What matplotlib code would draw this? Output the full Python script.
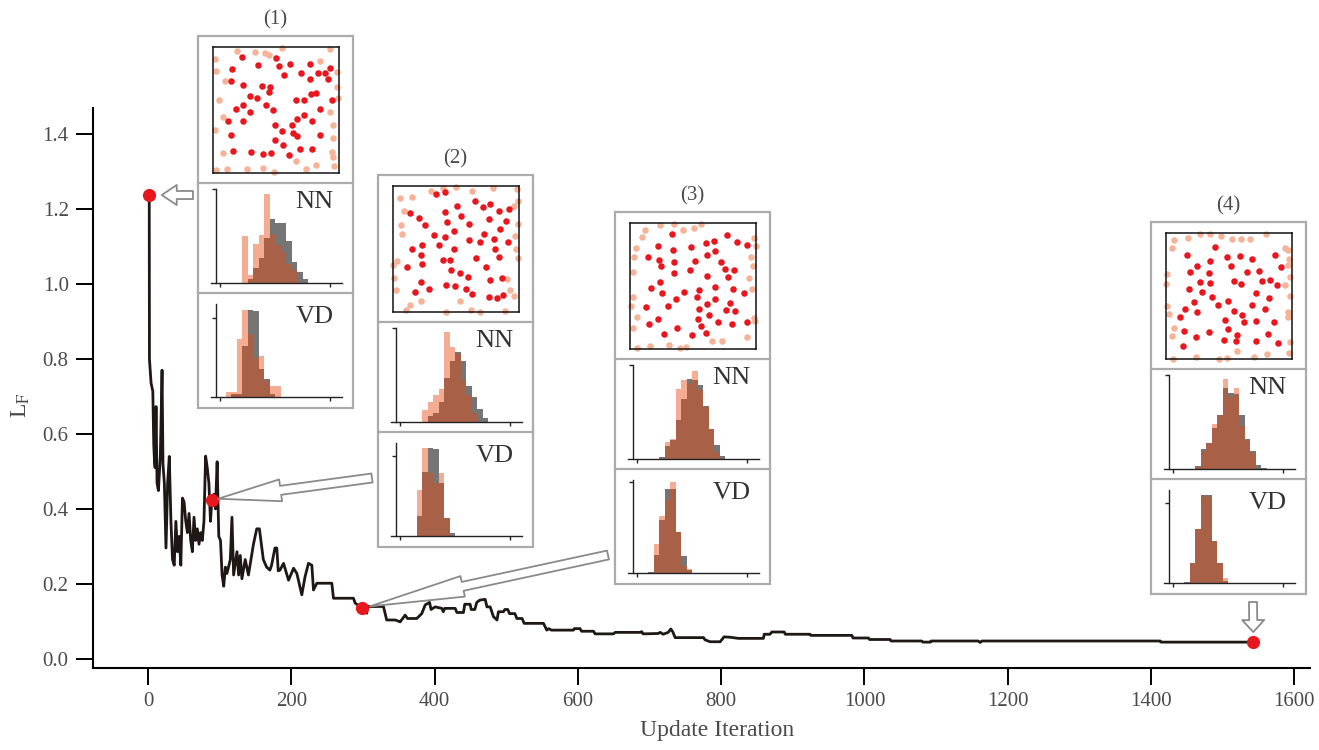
import matplotlib
matplotlib.use("Agg")
import matplotlib.pyplot as plt
from matplotlib.patches import Rectangle
from matplotlib.lines import Line2D
import numpy as np

plt.rcParams['font.family'] = ['Liberation Serif', 'DejaVu Serif']
plt.rcParams['mathtext.fontset'] = 'stix'

W, H = 1319, 750
TXT = '#4a4a4a'
PINK = '#e8480f'
GREY = '#757575'
DOT = '#e8161d'
LIGHT = '#f6b398'
BOXC = '#ababab'

# ---- main curve (iteration, L_F)
curve = [(1.5, 1.237), (1.8, 0.80), (4.1, 0.735), (6.5, 0.714), (7.8, 0.571), (8.8, 0.53),
         (9.7, 0.51), (11, 0.673), (12.4, 0.469), (14.3, 0.449), (17, 0.54), (19.4, 0.77),
         (20.7, 0.52), (22.6, 0.469), (24.9, 0.296), (27.2, 0.469), (29.5, 0.54), (31.8, 0.367),
         (34, 0.265), (36.4, 0.25), (38.7, 0.367), (41, 0.286), (43.3, 0.327), (45.6, 0.25),
         (47.9, 0.429), (50.2, 0.418), (52.5, 0.367), (54.8, 0.337), (57.1, 0.388), (59.4, 0.316),
         (61.7, 0.286), (64, 0.378), (66.4, 0.316), (68.7, 0.347), (71, 0.306), (73.3, 0.337),
         (75.6, 0.316), (77.9, 0.367), (80.2, 0.541), (82.5, 0.51), (84.8, 0.469), (87, 0.367),
         (89, 0.425), (91.7, 0.439), (94, 0.40), (96.3, 0.526), (98.6, 0.327), (101, 0.316),
         (103.2, 0.224), (105.5, 0.194), (107.8, 0.245), (110, 0.228), (114.7, 0.265), (117, 0.378),
         (119.3, 0.224), (124, 0.286), (126.3, 0.224), (128.6, 0.276), (130.9, 0.214), (135.5, 0.265),
         (140, 0.224), (147, 0.306), (151.6, 0.347), (155.3, 0.347), (160.8, 0.265), (165.4, 0.245),
         (170, 0.237), (172.3, 0.25), (177, 0.296), (179.6, 0.296), (181.6, 0.235), (184, 0.237),
         (189, 0.255), (196, 0.21), (203, 0.242), (207.6, 0.228), (214.5, 0.171), (219, 0.219),
         (223.8, 0.255), (228.5, 0.25), (230.8, 0.184), (235.5, 0.202), (256.4, 0.202), (258.7, 0.162),
         (286.6, 0.162), (289, 0.149), (299, 0.136), (303, 0.136), (305, 0.122), (307, 0.14),
         (328.5, 0.14), (333, 0.104), (345, 0.104), (351.8, 0.099), (358.8, 0.117), (362, 0.108),
         (375, 0.108), (382, 0.121), (386.7, 0.144), (392.8, 0.151), (395, 0.132), (400.7, 0.139),
         (410, 0.135), (412, 0.126), (414, 0.135), (428.6, 0.135), (431, 0.124), (440.2, 0.124),
         (442, 0.146), (449.5, 0.146), (451, 0.132), (456, 0.132), (458.8, 0.151), (463, 0.157),
         (470.5, 0.159), (473, 0.139), (477.5, 0.139), (482, 0.113), (487, 0.104), (489, 0.126),
         (496, 0.126), (498, 0.132), (502, 0.132), (504.5, 0.121), (512, 0.121), (514.7, 0.108),
         (522, 0.108), (525, 0.095), (551.9, 0.095), (556.5, 0.077), (559, 0.081), (563, 0.077),
         (593.8, 0.077), (595, 0.081), (603, 0.081), (605, 0.074), (621.7, 0.074), (624, 0.067),
         (649.7, 0.067), (652, 0.071), (686.9, 0.071), (689, 0.073), (691, 0.067), (712, 0.068),
         (715, 0.071), (719, 0.066), (726, 0.071), (729.7, 0.080), (732.5, 0.072), (735.7, 0.057),
         (775.3, 0.057), (777.5, 0.051), (784.5, 0.046), (798.6, 0.046), (804, 0.059), (812.7, 0.058),
         (824, 0.055), (859, 0.055), (860, 0.066), (868, 0.066), (870.7, 0.072), (888, 0.072),
         (889.5, 0.066), (924, 0.066), (925, 0.063), (982.4, 0.063), (984, 0.056), (1005.6, 0.056),
         (1007, 0.052), (1036, 0.052), (1037, 0.048), (1080, 0.048), (1081.5, 0.045), (1092, 0.045),
         (1093, 0.048), (1159, 0.048), (1161.5, 0.044), (1164, 0.048), (1412.8, 0.048), (1414, 0.045),
         (1543, 0.045)]

dot_x = [1.5, 89, 299, 1543]
dot_y = [1.237, 0.425, 0.136, 0.046]

x_ticks = [0, 200, 400, 600, 800, 1000, 1200, 1400, 1600]
y_ticks = [0.0, 0.2, 0.4, 0.6, 0.8, 1.0, 1.2, 1.4]

# ---- inset point sets (normalised box coords)
red1 = [(0.228, 0.922), (0.503, 0.914), (0.360, 0.857), (0.524, 0.849), (0.611, 0.862), (0.770, 0.868),
        (0.153, 0.823), (0.926, 0.836), (0.563, 0.779), (0.696, 0.792), (0.836, 0.792), (0.889, 0.797),
        (0.770, 0.748), (0.915, 0.745), (0.140, 0.732), (0.241, 0.696), (0.392, 0.688), (0.450, 0.681),
        (0.444, 0.642), (0.780, 0.629), (0.815, 0.631), (0.294, 0.610), (0.347, 0.592), (0.656, 0.579),
        (0.722, 0.579), (0.942, 0.577), (0.241, 0.540), (0.423, 0.540), (0.180, 0.506), (0.294, 0.488),
        (0.479, 0.499), (0.849, 0.506), (0.722, 0.462), (0.119, 0.416), (0.238, 0.416), (0.669, 0.429),
        (0.788, 0.416), (0.492, 0.377), (0.630, 0.377), (0.550, 0.330), (0.638, 0.317), (0.669, 0.291),
        (0.140, 0.299), (0.847, 0.299), (0.492, 0.260), (0.558, 0.221), (0.690, 0.187), (0.788, 0.187),
        (0.159, 0.174), (0.299, 0.169), (0.399, 0.151), (0.463, 0.161), (0.603, 0.143)]
light1 = [(0.550, 0.995), (0.193, 0.969), (0.333, 0.961), (0.413, 0.956), (0.444, 0.935), (0.013, 0.904),
          (0.847, 0.891), (0.929, 0.987), (0.026, 0.810), (0.981, 0.800), (0.095, 0.732), (0.981, 0.681),
          (0.995, 0.592), (0.048, 0.577), (0.929, 0.488), (0.082, 0.442), (0.955, 0.382), (0.016, 0.338),
          (0.955, 0.281), (0.082, 0.161), (0.947, 0.169), (0.955, 0.125), (0.656, 0.099), (0.021, 0.026),
          (0.114, 0.031), (0.272, 0.034), (0.399, 0.039), (0.484, 0.008), (0.735, 0.031), (0.815, 0.060),
          (0.960, 0.052)]

red2 = [(0.342, 0.933), (0.411, 0.954), (0.653, 0.882), (0.718, 0.836), (0.771, 0.858), (0.511, 0.839),
        (0.132, 0.788), (0.413, 0.793), (0.842, 0.798), (0.921, 0.820), (0.205, 0.747), (0.537, 0.758),
        (0.763, 0.737), (0.895, 0.723), (0.250, 0.691), (0.432, 0.715), (0.605, 0.696), (0.850, 0.656),
        (0.487, 0.642), (0.721, 0.618), (0.326, 0.613), (0.416, 0.594), (0.600, 0.570), (0.687, 0.554),
        (0.805, 0.578), (0.913, 0.559), (0.150, 0.503), (0.229, 0.532), (0.363, 0.532), (0.484, 0.497),
        (0.811, 0.503), (0.226, 0.452), (0.658, 0.427), (0.845, 0.433), (0.395, 0.414), (0.455, 0.409),
        (0.232, 0.384), (0.113, 0.360), (0.739, 0.360), (0.463, 0.331), (0.532, 0.312), (0.597, 0.280),
        (0.221, 0.237), (0.771, 0.250), (0.868, 0.269), (0.284, 0.183), (0.174, 0.161), (0.421, 0.212),
        (0.489, 0.210), (0.579, 0.180), (0.624, 0.145), (0.758, 0.121), (0.826, 0.110), (0.874, 0.137)]
light2 = [(0.058, 0.901), (0.153, 0.909), (0.305, 0.962), (0.395, 0.987), (0.497, 0.995), (0.626, 0.962),
          (0.795, 0.987), (0.984, 0.976), (0.992, 0.879), (0.963, 0.841), (0.087, 0.801), (0.061, 0.694),
          (0.068, 0.618), (0.989, 0.696), (0.968, 0.605), (0.974, 0.497), (0.989, 0.427), (0.032, 0.406),
          (0.000, 0.371), (0.008, 0.269), (0.024, 0.175), (0.903, 0.263), (0.926, 0.175), (0.958, 0.126),
          (0.132, 0.054), (0.105, 0.019), (0.224, 0.086), (0.534, 0.091), (0.421, 0.000), (0.616, 0.013),
          (0.687, 0.000), (0.887, 0.011)]

red3 = [(0.333, 0.915), (0.219, 0.814), (0.341, 0.784), (0.485, 0.808), (0.603, 0.841), (0.669, 0.855),
        (0.768, 0.901), (0.853, 0.847), (0.928, 0.825), (0.139, 0.732), (0.227, 0.704), (0.352, 0.688),
        (0.517, 0.701), (0.608, 0.745), (0.675, 0.781), (0.248, 0.658), (0.349, 0.600), (0.480, 0.630),
        (0.720, 0.690), (0.752, 0.636), (0.827, 0.627), (0.779, 0.575), (0.608, 0.581), (0.235, 0.529),
        (0.168, 0.482), (0.256, 0.444), (0.427, 0.452), (0.544, 0.471), (0.677, 0.496), (0.819, 0.479),
        (0.904, 0.441), (0.365, 0.397), (0.531, 0.411), (0.675, 0.397), (0.128, 0.332), (0.301, 0.342),
        (0.549, 0.321), (0.611, 0.356), (0.797, 0.362), (0.760, 0.310), (0.832, 0.301), (0.219, 0.236),
        (0.149, 0.197), (0.376, 0.167), (0.539, 0.238), (0.624, 0.268), (0.560, 0.186), (0.701, 0.216),
        (0.813, 0.197), (0.931, 0.211), (0.269, 0.118), (0.493, 0.110), (0.605, 0.126)]
light3 = [(0.235, 0.984), (0.352, 0.992), (0.421, 0.945), (0.507, 0.964), (0.560, 0.989), (0.120, 0.945),
          (0.096, 0.888), (0.048, 0.800), (0.035, 0.732), (0.027, 0.608), (0.021, 0.411), (0.005, 0.340),
          (0.059, 0.252), (0.021, 0.170), (0.984, 0.882), (1.000, 0.814), (0.963, 0.732), (0.976, 0.658),
          (0.947, 0.564), (0.968, 0.479), (0.987, 0.244), (0.992, 0.222), (0.925, 0.096), (0.653, 0.060),
          (0.733, 0.060), (0.059, 0.005), (0.155, 0.025), (0.307, 0.033), (0.400, 0.005), (0.445, 0.014)]

red4 = [(0.390, 0.889), (0.163, 0.827), (0.486, 0.811), (0.587, 0.819), (0.685, 0.797), (0.866, 0.824),
        (0.346, 0.781), (0.519, 0.735), (0.248, 0.741), (0.912, 0.732), (0.189, 0.692), (0.344, 0.681),
        (0.643, 0.689), (0.739, 0.695), (0.266, 0.614), (0.349, 0.603), (0.543, 0.616), (0.594, 0.592),
        (0.762, 0.616), (0.824, 0.624), (0.879, 0.589), (0.181, 0.554), (0.287, 0.530), (0.364, 0.495),
        (0.711, 0.522), (0.817, 0.484), (0.225, 0.454), (0.413, 0.430), (0.494, 0.457), (0.685, 0.430),
        (0.152, 0.397), (0.248, 0.373), (0.543, 0.381), (0.605, 0.351), (0.783, 0.397), (0.114, 0.330),
        (0.465, 0.308), (0.623, 0.297), (0.713, 0.300), (0.860, 0.297), (0.494, 0.241), (0.140, 0.222),
        (0.240, 0.178), (0.339, 0.214), (0.563, 0.189), (0.806, 0.200), (0.137, 0.105), (0.457, 0.154),
        (0.558, 0.141), (0.713, 0.141), (0.891, 0.124)]
light4 = [(0.065, 0.946), (0.044, 0.881), (0.171, 0.957), (0.269, 0.992), (0.351, 0.992), (0.434, 0.978),
          (0.522, 0.954), (0.594, 0.954), (0.664, 0.951), (0.791, 0.989), (0.948, 0.881), (0.969, 0.865),
          (0.974, 0.795), (0.969, 0.749), (0.987, 0.649), (0.943, 0.584), (0.987, 0.497), (0.010, 0.676),
          (0.000, 0.595), (0.010, 0.419), (0.023, 0.357), (0.966, 0.373), (0.969, 0.330), (0.062, 0.243),
          (0.044, 0.184), (0.982, 0.135), (0.977, 0.049), (0.057, 0.000), (0.235, 0.016), (0.424, 0.000),
          (0.481, 0.008), (0.561, 0.062), (0.698, 0.019), (0.804, 0.043)]

# ---- histogram bar heights per bin (fraction of panel height)
nn1_pink = [0, 0, 0, 0, 0.50, 0.085, 0.415, 0.51, 0.95, 0.52, 0.40, 0.33, 0.20, 0.14, 0, 0]
nn1_grey = [0, 0, 0, 0, 0, 0.043, 0.156, 0.27, 0.475, 0.68, 0.64, 0.64, 0.45, 0.22, 0.12, 0.043]
vd1_pink = [0, 0.058, 0.058, 0.62, 0.94, 0.68, 0.42, 0.44, 0.17, 0.12, 0.12]
vd1_grey = [0, 0, 0.03, 0.03, 0.55, 0.94, 0.92, 0.30, 0.19, 0.03, 0]

nn2_pink = [0, 0, 0, 0, 0.13, 0.21, 0.29, 0.35, 0.96, 0.80, 0.725, 0.45, 0.29, 0.10, 0, 0]
nn2_grey = [0, 0, 0, 0, 0, 0.066, 0.10, 0.21, 0.47, 0.65, 0.74, 0.65, 0.38, 0.27, 0.14, 0.04]
vd2_pink = [0, 0, 0, 0.50, 0.95, 0.68, 0.57, 0.68, 0.19, 0]
vd2_grey = [0, 0, 0, 0.21, 0.69, 0.95, 0.94, 0.57, 0.19, 0.03]

nn3_pink = [0, 0, 0, 0, 0, 0.18, 0.21, 0.75, 0.84, 0.80, 0.94, 0.73, 0.55, 0.32, 0.07, 0]
nn3_grey = [0, 0, 0, 0, 0.025, 0.14, 0.20, 0.42, 0.64, 0.85, 0.84, 0.79, 0.56, 0.32, 0.15, 0.036]
vd3_pink = [0, 0, 0, 0.31, 0.61, 0.79, 0.98, 0.44, 0.08, 0.045]
vd3_grey = [0, 0, 0.01, 0.19, 0.57, 0.906, 0.906, 0.44, 0.18, 0.03]

nn4_pink = [0, 0, 0, 0, 0.02, 0.19, 0.28, 0.48, 0.57, 0.96, 0.77, 0.86, 0.46, 0.30, 0.17, 0, 0]
nn4_grey = [0, 0, 0, 0, 0.036, 0.21, 0.28, 0.44, 0.57, 0.86, 0.81, 0.80, 0.57, 0.32, 0.19, 0.047, 0.01]
vd4_pink = [0, 0, 0, 0.21, 0.58, 0.95, 0.93, 0.455, 0.21, 0.055]
vd4_grey = [0, 0, 0.01, 0.21, 0.58, 0.945, 0.945, 0.455, 0.21, 0.025]

vd_tick = [0.845, 0.856, 0.98, 0.855]
titles = ['(1)', '(2)', '(3)', '(4)']
box_pos = [(198, 36), (378, 175), (615, 212), (1151, 222)]   # top-left, figure pixels


def fig_rect(x0, y0, x1, y1):
    return [x0 / W, 1 - y1 / H, (x1 - x0) / W, (y1 - y0) / H]


fig = plt.figure(figsize=(W / 100, H / 100), dpi=100)

# ---- main plot
ax = fig.add_axes(fig_rect(93, 108, 1310, 668))
cx, cy = np.array(curve).T
ax.plot(cx, cy, color='#1e1715', lw=2.0, zorder=2)
ax.plot(dot_x, dot_y, 'o', color=DOT, ms=9.5, mew=0, zorder=3, clip_on=False)
ax.set_xlim(-77, 1622)
ax.set_ylim(-0.024, 1.469)
ax.set_xticks(x_ticks)
ax.set_yticks(y_ticks)
ax.set_yticklabels(['%.1f' % v for v in y_ticks])
for s in ['top', 'right']:
    ax.spines[s].set_visible(False)
for s in ['left', 'bottom']:
    ax.spines[s].set_linewidth(1.5)
ax.tick_params(length=12.5, width=1.4, labelsize=15, labelcolor=TXT, pad=5)
ax.set_xlabel('Update Iteration', fontsize=17, color=TXT)
ax.set_ylabel(r'L$_{\mathrm{F}}$', fontsize=17, color=TXT)
ax.xaxis.set_label_coords(0.513, -0.093)
ax.yaxis.set_label_coords(-0.05, 0.47)

# ---- hollow arrows pointing at the snapshots
arr_tail = [(193, 195), (372, 478), (608, 555), (1253, 602)]
arr_head = [(15, 20, 8), (63, 22, 9), (95, 21, 9), (12, 22, 8)]   # length, width, tail (px)
arr_gap = [9, 4.5, 5.5, 7]
for i in range(4):
    hl, hw, tw = [v * 0.72 for v in arr_head[i]]
    ax.annotate('', xy=(dot_x[i], dot_y[i]), xycoords='data',
                xytext=(arr_tail[i][0], H - arr_tail[i][1]), textcoords='figure pixels',
                arrowprops=dict(arrowstyle='simple,head_length=%.1f,head_width=%.1f,tail_width=%.1f' % (hl, hw, tw),
                                mutation_scale=1, fc='white', ec='#8a8a8a', lw=1.3,
                                shrinkA=0, shrinkB=arr_gap[i]),
                annotation_clip=False)


def draw_hist(hax, pink, grey, ytick, label):
    hax.bar(np.arange(len(grey)) + 0.5, grey, width=1, color=GREY, lw=0)
    hax.bar(np.arange(len(pink)) + 0.5, pink, width=1, color=PINK, alpha=0.45, lw=0)
    hax.set_xlim(-1.7, 22.1)
    hax.set_ylim(0, 1)
    hax.spines['left'].set_position(('data', -0.85))
    for s in ['top', 'right']:
        hax.spines[s].set_visible(False)
    for s in ['left', 'bottom']:
        hax.spines[s].set_linewidth(1.0)
        hax.spines[s].set_color('#222222')
    hax.set_xticks([0, 20])
    hax.set_yticks([ytick])
    hax.tick_params(length=3, width=1, color='#222222', labelbottom=False, labelleft=False)
    hax.patch.set_alpha(0)
    hax.text(0.79, 0.86, label, transform=hax.transAxes, ha='center', va='center',
             fontsize=19, color='#333333')


insets = [(red1, light1, nn1_pink, nn1_grey, vd1_pink, vd1_grey),
          (red2, light2, nn2_pink, nn2_grey, vd2_pink, vd2_grey),
          (red3, light3, nn3_pink, nn3_grey, vd3_pink, vd3_grey),
          (red4, light4, nn4_pink, nn4_grey, vd4_pink, vd4_grey)]

for i, (red, light, nnp, nng, vdp, vdg) in enumerate(insets):
    bx, by = box_pos[i]
    fig.add_artist(Rectangle((bx / W, 1 - (by + 372) / H), 155 / W, 372 / H, transform=fig.transFigure,
                             fc='white', ec=BOXC, lw=1.6, zorder=1))
    for dy in (147, 257):
        fig.add_artist(Line2D([bx / W, (bx + 155) / W], [1 - (by + dy) / H] * 2,
                              transform=fig.transFigure, color=BOXC, lw=1.6, zorder=1.5))
    fig.text((bx + 77.5) / W, 1 - (by - 16) / H, titles[i], ha='center', va='center',
             fontsize=15, color=TXT)

    sa = fig.add_axes(fig_rect(bx + 15, by + 11, bx + 141, by + 137))
    sa.set_zorder(3)
    lu, lv = np.array(light).T
    ru, rv = np.array(red).T
    sa.scatter(lu, lv, s=22, color=LIGHT, lw=0, clip_on=False, zorder=2)
    sa.scatter(ru, rv, s=22, color=DOT, lw=0, clip_on=False, zorder=3)
    sa.set_xlim(0, 1)
    sa.set_ylim(0, 1)
    sa.set_xticks([])
    sa.set_yticks([])
    sa.patch.set_alpha(0)
    for s in sa.spines.values():
        s.set_linewidth(1.1)
        s.set_color('#111111')

    na = fig.add_axes(fig_rect(bx + 13, by + 153, bx + 144, by + 247))
    na.set_zorder(3)
    draw_hist(na, nnp, nng, 1.0, 'NN')
    va = fig.add_axes(fig_rect(bx + 13, by + 268, bx + 144, by + 361))
    va.set_zorder(3)
    draw_hist(va, vdp, vdg, vd_tick[i], 'VD')

fig.savefig('out.png', dpi=100)
